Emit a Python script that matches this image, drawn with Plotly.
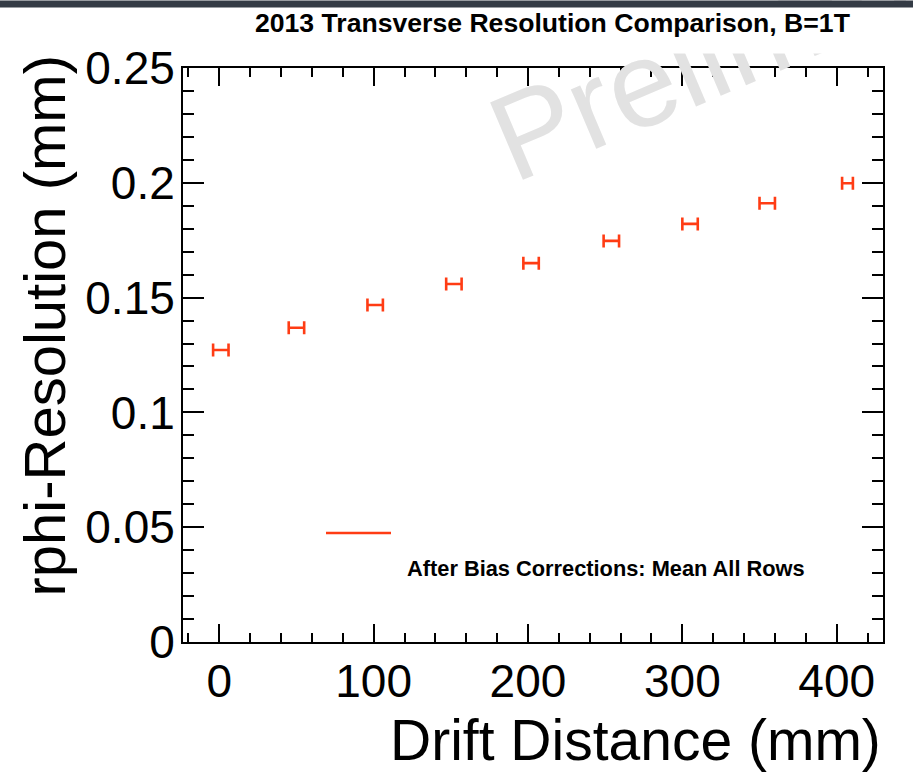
import plotly.graph_objects as go

# Drift distance (mm) and transverse rphi resolution (mm), with x-bin half widths
drift_mm = [1, 50, 101, 152, 202, 254, 305, 355, 407]
resolution_mm = [0.1272, 0.1369, 0.1468, 0.1559, 0.1650, 0.1747, 0.1821, 0.1911, 0.1998]
drift_err = [5, 5, 5, 5, 5, 5, 5, 5, 3.5]

title_text = "2013 Transverse Resolution Comparison, B=1T"
legend_text = "After Bias Corrections: Mean All Rows"
x_title = "Drift Distance (mm)"
y_title = "rphi-Resolution (mm)"
x_ticks = [0, 100, 200, 300, 400]
y_ticks = [0, 0.05, 0.1, 0.15, 0.2, 0.25]
y_tick_labels = ["0", "0.05", "0.1", "0.15", "0.2", "0.25"]

RED = "#ff3c14"
FONT = "Liberation Sans, Arial, Helvetica, sans-serif"

fig = go.Figure()
fig.add_trace(go.Scatter(
    x=drift_mm, y=resolution_mm, mode="markers",
    marker=dict(size=1, color=RED),
    error_x=dict(type="data", array=drift_err, visible=True,
                 color=RED, thickness=2.6, width=6.5),
    showlegend=False, cliponaxis=False,
))

W, H = 913, 779
L, R, T, B = 183, 30, 68, 137
PW, PH = W - L - R, H - T - B


def px(x):
    return (x - L) / PW


def py(y):
    return 1 - (y - T) / PH


axis_common = dict(
    showline=True, linecolor="black", linewidth=2, mirror="allticks",
    ticks="inside", tickcolor="black", showgrid=False, zeroline=False,
    tickfont=dict(family=FONT, size=46, color="black"),
)

fig.update_xaxes(
    range=[-23.5, 430], tickvals=x_ticks, ticklen=18, tickwidth=2,
    minor=dict(dtick=20, tick0=0, ticklen=9, tickwidth=2, ticks="inside", tickcolor="black"),
    ticklabelstandoff=-2,
    **axis_common,
)
fig.update_yaxes(
    range=[0, 0.25], tickvals=y_ticks, ticktext=y_tick_labels, ticklen=21, tickwidth=2,
    minor=dict(dtick=0.01, tick0=0, ticklen=11, tickwidth=2, ticks="inside", tickcolor="black"),
    ticklabelstandoff=-3,
    **axis_common,
)

annotations = [
    # faint rotated watermark
    dict(text="Preliminary", xref="paper", yref="paper",
         x=px(778), y=py(26),
         xanchor="center", yanchor="middle", showarrow=False, textangle=-23,
         font=dict(family=FONT, size=122, color="#e2e2e2")),
    # title pad, covering the watermark above the frame
    dict(text=" ", xref="paper", yref="paper",
         x=px(230), y=py(6),
         xanchor="left", yanchor="top", showarrow=False,
         width=W - 230 + 4, height=46, bgcolor="white", borderpad=0,
         font=dict(size=1)),
    dict(text=title_text, xref="paper", yref="paper",
         x=px(253), y=py(23),
         xanchor="left", yanchor="middle", showarrow=False,
         font=dict(family=FONT, size=26.6, color="black", weight="bold")),
    # dark band across the top edge
    dict(text=" ", xref="paper", yref="paper",
         x=px(-2), y=py(0),
         xanchor="left", yanchor="top", showarrow=False,
         width=W + 4, height=6, bgcolor="#343b45", borderpad=0,
         font=dict(size=1)),
    dict(text=legend_text, xref="paper", yref="paper",
         x=px(405), y=py(568),
         xanchor="left", yanchor="middle", showarrow=False,
         font=dict(family=FONT, size=21.8, color="black", weight="bold")),
    dict(text=x_title, xref="paper", yref="paper",
         x=px(883), y=py(740),
         xanchor="right", yanchor="middle", showarrow=False,
         font=dict(family=FONT, size=57, color="black")),
    dict(text=y_title, xref="paper", yref="paper",
         x=px(44), y=py(54),
         xanchor="center", yanchor="top", showarrow=False, textangle=-90,
         font=dict(family=FONT, size=58, color="black")),
]

# legend sample line
shapes = [dict(type="line", xref="paper", yref="paper",
               x0=px(326), x1=px(391), y0=py(533), y1=py(533),
               line=dict(color=RED, width=2.6))]

fig.update_layout(
    width=W, height=H,
    margin=dict(l=L, r=R, t=T, b=B),
    paper_bgcolor="white", plot_bgcolor="white",
    annotations=annotations, shapes=shapes,
    showlegend=False,
)

fig.write_html("out.html")
